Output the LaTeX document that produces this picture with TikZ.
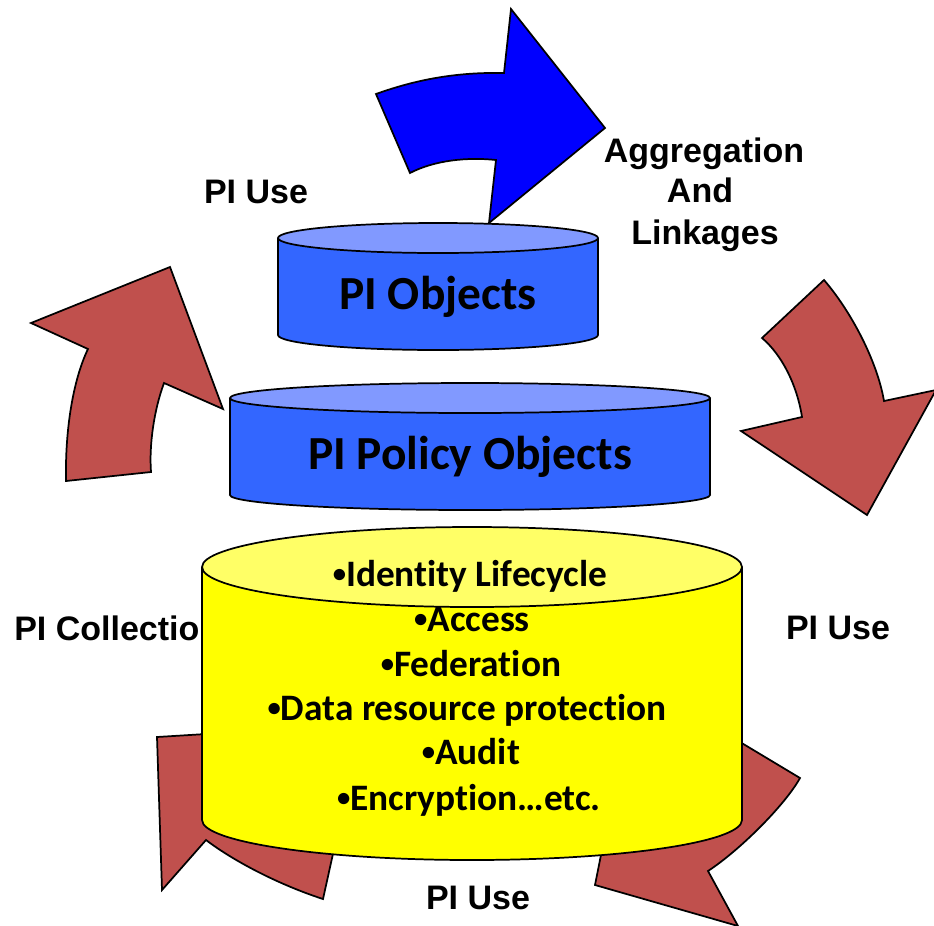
\documentclass[tikz,border=0pt]{standalone}
\usepackage{fontspec}
\setmainfont{Liberation Sans}
\newfontfamily\calib[Ligatures=NoCommon]{Carlito}
\definecolor{arrowred}{HTML}{C0504D}
\definecolor{arrowblue}{HTML}{0000FF}
\definecolor{bluebody}{HTML}{3366FF}
\definecolor{bluetop}{HTML}{8199FF}
\definecolor{yelbody}{HTML}{FFFF00}
\definecolor{yeltop}{HTML}{FFFF66}
% small list bullet
\newcommand\itemdot{\raisebox{0.22ex}{\fontsize{20}{20}\selectfont•}}
\begin{document}
\begin{tikzpicture}[x=0.75pt,y=-0.75pt,
  outline/.style={draw=black,line width=1.3pt,line join=miter},
  cycarrow/.style={outline,fill=arrowred},
  flowarrow/.style={outline,fill=arrowblue},
  steplabel/.style={font=\bfseries\fontsize{25.5}{31}\selectfont,anchor=base,inner sep=0pt},
  tiertitle/.style={font=\calib\bfseries\fontsize{35.6}{42}\selectfont,anchor=base,inner sep=0pt},
  itemline/.style={font=\calib\bfseries\fontsize{28}{33}\selectfont,anchor=base,inner sep=0pt}]
\useasboundingbox (0,0) rectangle (934,925);

% label partly covered by the base cylinder
\node[steplabel,anchor=base west] (collect) at (14,640) {PI Collection};

% circular process arrows
\draw[flowarrow] (376,94) .. controls (415,80) and (455,72) .. (504,73) -- (511,9) -- (605,128)
  -- (489,223) -- (496,160) .. controls (468,157) and (435,160) .. (410,173) -- cycle;
\draw[cycarrow] (66,481) -- (151,472) .. controls (149,445) and (154,410) .. (164,383) -- (223,409)
  -- (170,267) -- (31,323) -- (88,349) .. controls (73,380) and (65,430) .. (66,481) -- cycle;
\draw[cycarrow] (762,338) -- (824,280) .. controls (850,310) and (877,360) .. (884,401) -- (936,390)
  -- (867,515) -- (741,431) -- (802,417) .. controls (797,385) and (782,355) .. (762,338) -- cycle;
\draw[cycarrow] (157,737) -- (162,890) -- (206,840) .. controls (235,862) and (280,885) .. (323,899)
  -- (340,822) .. controls (310,815) and (285,800) .. (259,780) -- (304,728) -- cycle;
\draw[cycarrow] (710,724) -- (800,778) .. controls (785,805) and (740,850) .. (708,871) -- (738,926)
  -- (595,885) -- (627,724) -- (673,807) .. controls (690,780) and (705,750) .. (710,724) -- cycle;

% top tier: PI Objects
\fill[bluebody,outline] (438,335) ellipse [x radius=160,y radius=15];
\fill[bluebody] (278,238) rectangle (598,335);
\draw[line width=1.3pt] (278,238) -- (278,335) (598,238) -- (598,335);
\fill[bluetop,outline] (438,238) ellipse [x radius=160,y radius=15];
\node[tiertitle] (objects) at (438,309) {PI Objects};

% middle tier: PI Policy Objects
\fill[bluebody,outline] (470,495) ellipse [x radius=240,y radius=15];
\fill[bluebody] (230,398) rectangle (710,495);
\draw[line width=1.3pt] (230,398) -- (230,495) (710,398) -- (710,495);
\fill[bluetop,outline] (470,398) ellipse [x radius=240,y radius=15];
\node[tiertitle] (policy) at (470,469) {PI Policy Objects};

% base tier: services
\fill[yelbody,outline] (472,820) ellipse [x radius=270,y radius=40];
\fill[yelbody] (202,567) rectangle (742,820);
\draw[line width=1.3pt] (202,567) -- (202,820) (742,567) -- (742,820);
\fill[yeltop,outline] (472,567) ellipse [x radius=270,y radius=40];
\node[itemline] (i1) at (470,586) {\itemdot Identity Lifecycle};
\node[itemline] (i2) at (472,631) {\itemdot Access};
\node[itemline] (i3) at (471,676) {\itemdot Federation};
\node[itemline] (i4) at (467,720) {\itemdot Data resource protection};
\node[itemline] (i5) at (471,764) {\itemdot Audit};
\node[itemline] (i6) at (469,810) {\itemdot Encryption…etc.};

% step labels
\node[steplabel] (usetl) at (256,203) {PI Use};
\node[steplabel] (agg1) at (704,162) {Aggregation};
\node[steplabel] (agg2) at (700,202) {And};
\node[steplabel] (agg3) at (705,244) {Linkages};
\node[steplabel] (user) at (838,639) {PI Use};
\node[steplabel] (useb) at (478,909) {PI Use};
\end{tikzpicture}
\end{document}
